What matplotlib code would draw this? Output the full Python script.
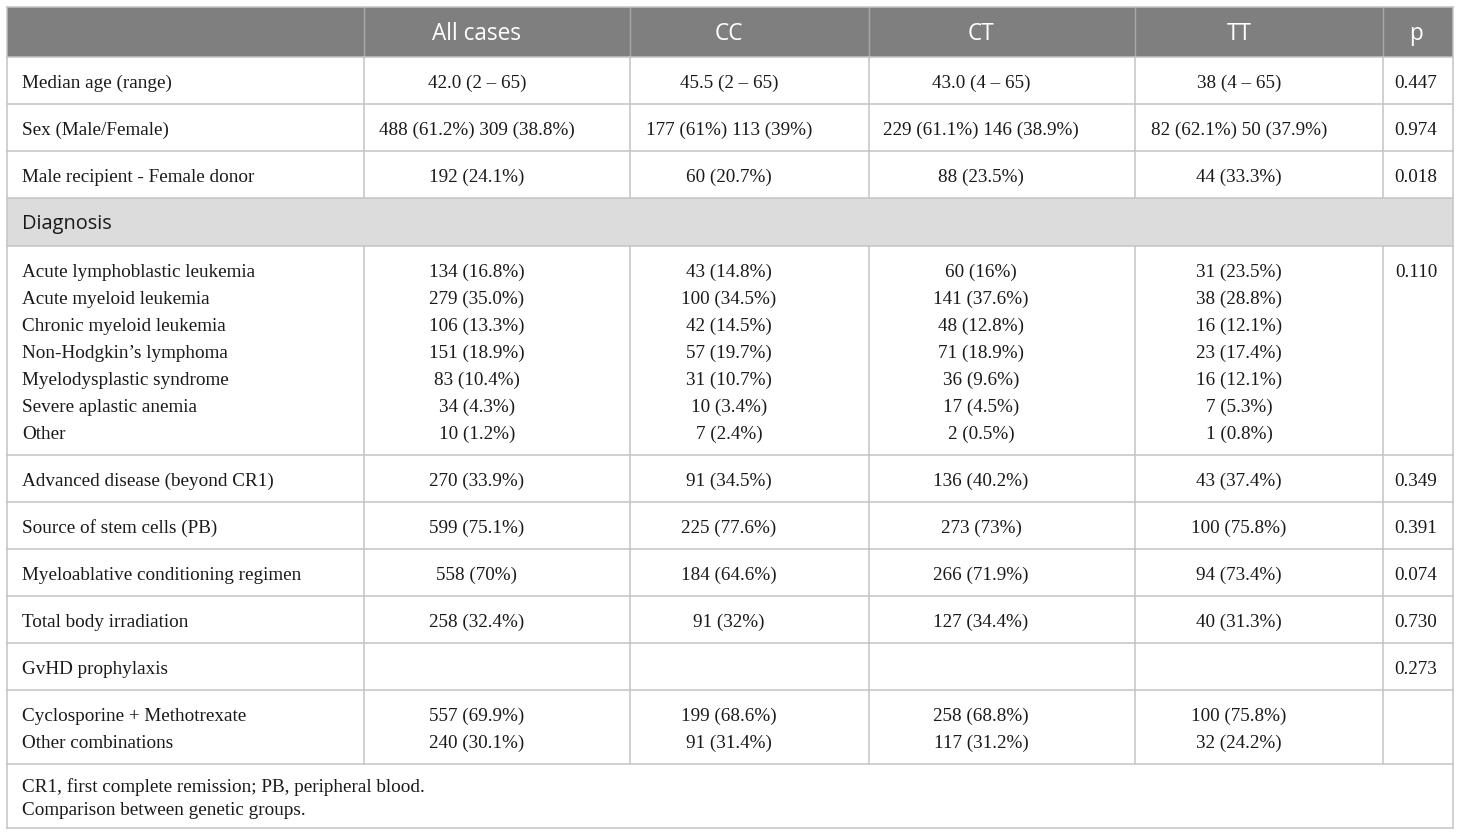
import matplotlib
matplotlib.use("Agg")
import matplotlib.pyplot as plt
from matplotlib.patches import Rectangle

# ---------------- data ----------------
columns = ["All cases", "CC", "CT", "TT", "p"]

row_labels = [
    "Median age (range)",
    "Sex (Male/Female)",
    "Male recipient - Female donor",
    "Acute lymphoblastic leukemia",
    "Acute myeloid leukemia",
    "Chronic myeloid leukemia",
    "Non-Hodgkin\u2019s lymphoma",
    "Myelodysplastic syndrome",
    "Severe aplastic anemia",
    "Other",
    "Advanced disease (beyond CR1)",
    "Source of stem cells (PB)",
    "Myeloablative conditioning regimen",
    "Total body irradiation",
    "GvHD prophylaxis",
    "Cyclosporine + Methotrexate",
    "Other combinations",
]

all_cases = ["42.0 (2 \u2013 65)", "488 (61.2%) 309 (38.8%)", "192 (24.1%)",
             "134 (16.8%)", "279 (35.0%)", "106 (13.3%)", "151 (18.9%)",
             "83 (10.4%)", "34 (4.3%)", "10 (1.2%)",
             "270 (33.9%)", "599 (75.1%)", "558 (70%)", "258 (32.4%)", "",
             "557 (69.9%)", "240 (30.1%)"]
cc_vals = ["45.5 (2 \u2013 65)", "177 (61%) 113 (39%)", "60 (20.7%)",
           "43 (14.8%)", "100 (34.5%)", "42 (14.5%)", "57 (19.7%)",
           "31 (10.7%)", "10 (3.4%)", "7 (2.4%)",
           "91 (34.5%)", "225 (77.6%)", "184 (64.6%)", "91 (32%)", "",
           "199 (68.6%)", "91 (31.4%)"]
ct_vals = ["43.0 (4 \u2013 65)", "229 (61.1%) 146 (38.9%)", "88 (23.5%)",
           "60 (16%)", "141 (37.6%)", "48 (12.8%)", "71 (18.9%)",
           "36 (9.6%)", "17 (4.5%)", "2 (0.5%)",
           "136 (40.2%)", "273 (73%)", "266 (71.9%)", "127 (34.4%)", "",
           "258 (68.8%)", "117 (31.2%)"]
tt_vals = ["38 (4 \u2013 65)", "82 (62.1%) 50 (37.9%)", "44 (33.3%)",
           "31 (23.5%)", "38 (28.8%)", "16 (12.1%)", "23 (17.4%)",
           "16 (12.1%)", "7 (5.3%)", "1 (0.8%)",
           "43 (37.4%)", "100 (75.8%)", "94 (73.4%)", "40 (31.3%)", "",
           "100 (75.8%)", "32 (24.2%)"]
p_values = ["0.447", "0.974", "0.018",
            "0.110", "", "", "", "", "", "",
            "0.349", "0.391", "0.074", "0.730", "0.273",
            "", ""]

# number of text lines in each table row
group_sizes = [1, 1, 1, 7, 1, 1, 1, 1, 1, 2]
section_title = "Diagnosis"
section_before_group = 3

footnotes = ["CR1, first complete remission; PB, peripheral blood.",
             "Comparison between genetic groups."]

# ---------------- layout ----------------
W, H = 1460, 837
fig = plt.figure(figsize=(W / 100, H / 100), dpi=100)
ax = fig.add_axes([0, 0, 1, 1])
ax.set_xlim(0, W)
ax.set_ylim(H, 0)
ax.axis("off")

col_edges = [7, 364, 630, 869, 1135, 1383, 1453]
text_x = [477, 729, 981, 1239, 1416]
top = 8
header_h = 49.5
row_h = 47
line_gap = 27
band_h = 48
footer_h = 64
text_dy = 2.5

grid_c = "#c4c4c4"
header_fc = "#7f7f7f"
band_fc = "#dcdcdc"
text_c = "#1a1a1a"

serif = ["Liberation Serif", "DejaVu Serif"]
sans = ["Open Sans", "DejaVu Sans"]
body_fs = 13.8
head_fs = 16.3
band_fs = 14.4

left, right = col_edges[0], col_edges[-1]

# header
ax.add_patch(Rectangle((left, top), right - left, header_h, fc=header_fc, ec="none", zorder=1))
for i, name in enumerate(columns):
    ax.text(text_x[i], top + header_h / 2 + 1.5, name, ha="center", va="center",
            color="white", fontsize=head_fs, family=sans, zorder=3)
for x in col_edges[1:-1]:
    ax.plot([x, x], [top, top + header_h], color="#a8a8a8", lw=1, zorder=2)

y = top + header_h
hlines = [top, y]
vsegments = []
line_idx = 0
for g, n in enumerate(group_sizes):
    if g == section_before_group:
        ax.add_patch(Rectangle((left, y), right - left, band_h, fc=band_fc, ec="none", zorder=1))
        ax.text(col_edges[0] + 15, y + band_h / 2 + 1.5, section_title, ha="left", va="center",
                color=text_c, fontsize=band_fs, family=sans, zorder=3)
        y += band_h
        hlines.append(y)
    gh = row_h + (n - 1) * line_gap
    vsegments.append((y, y + gh))
    for k in range(n):
        ly = y + row_h / 2 + k * line_gap + text_dy
        ax.text(col_edges[0] + 15, ly, row_labels[line_idx], ha="left", va="center",
                color=text_c, fontsize=body_fs, family=serif, zorder=3)
        vals = [all_cases[line_idx], cc_vals[line_idx], ct_vals[line_idx],
                tt_vals[line_idx], p_values[line_idx]]
        for i, v in enumerate(vals):
            ax.text(text_x[i], ly, v, ha="center", va="center",
                    color=text_c, fontsize=body_fs, family=serif, zorder=3)
        line_idx += 1
    y += gh
    hlines.append(y)

# footer
for k, fn in enumerate(footnotes):
    ax.text(col_edges[0] + 15, y + 20 + k * 24 + text_dy, fn, ha="left", va="center",
            color=text_c, fontsize=body_fs, family=serif, zorder=3)
footer_bottom = y + footer_h
hlines.append(footer_bottom)

for hy in hlines:
    ax.plot([left, right], [hy, hy], color=grid_c, lw=1.1, zorder=2)
for (y0, y1) in vsegments:
    for x in col_edges[1:-1]:
        ax.plot([x, x], [y0, y1], color=grid_c, lw=1.1, zorder=2)
ax.plot([left, left], [top, footer_bottom], color=grid_c, lw=1.1, zorder=2)
ax.plot([right, right], [top, footer_bottom], color=grid_c, lw=1.1, zorder=2)

fig.savefig("out.png", dpi=100, facecolor="white")
